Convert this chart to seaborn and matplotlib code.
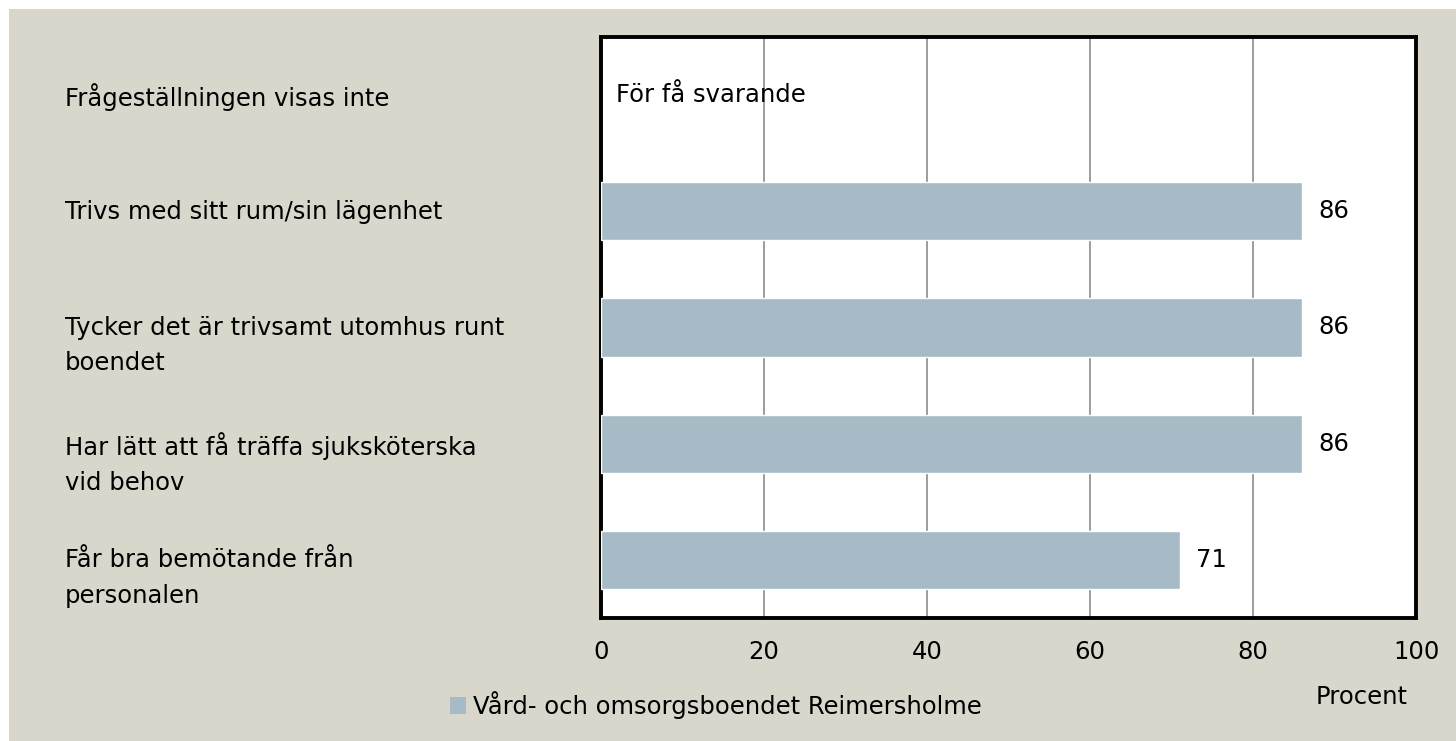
import numpy as np
import pandas as pd
import seaborn as sns
import matplotlib.pyplot as plt
from matplotlib.patches import Patch, Rectangle
from matplotlib.transforms import blended_transform_factory

# data
questions = [
    "Frågeställningen visas inte",
    "Trivs med sitt rum/sin lägenhet",
    "Tycker det är trivsamt utomhus runt\nboendet",
    "Har lätt att få träffa sjuksköterska\nvid behov",
    "Får bra bemötande från\npersonalen",
]
values = [np.nan, 86, 86, 86, 71]
series_name = "Vård- och omsorgsboendet Reimersholme"
too_few_text = "För få svarande"
x_ticks = [0, 20, 40, 60, 80, 100]

bg = "#d9d7cb"
bar_color = "#a7bbc7"
fs = 17.5


def main():
    sns.set_style("white")
    plt.rcParams["font.family"] = ["DejaVu Sans"]
    plt.rcParams["text.color"] = "black"
    plt.rcParams["xtick.color"] = "black"

    df = pd.DataFrame({"question": questions, "value": values})

    fig = plt.figure(figsize=(14.56, 7.41), dpi=100)
    fig.patch.set_facecolor("white")
    fig.patches.append(Rectangle((9 / 1456, 0), 1, 1 - 9 / 741, transform=fig.transFigure,
                                 facecolor=bg, edgecolor="none", zorder=-10))

    ax = fig.add_axes([601 / 1456, 1 - 618 / 741, 815 / 1456, 581 / 741])
    ax.set_facecolor("white")

    sns.barplot(data=df, x="value", y="question", order=questions, orient="h",
                color=bar_color, width=0.5, saturation=1, errorbar=None, ax=ax, zorder=3)

    ax.set_xlim(0, 100)
    ax.set_xticks(x_ticks)
    ax.grid(axis="x", color="#8c8c8c", linewidth=1.2, zorder=0)
    ax.set_axisbelow(True)
    ax.tick_params(axis="x", length=0, pad=16, labelsize=fs, labelcolor="black")
    ax.set_yticks(range(len(questions)))
    ax.set_yticklabels([])
    ax.tick_params(axis="y", length=0)
    ax.set_xlabel("")
    ax.set_ylabel("")
    for s in ax.spines.values():
        s.set_visible(True)
        s.set_color("black")
        s.set_linewidth(2.8)

    # value labels
    for i, v in enumerate(values):
        if np.isnan(v):
            ax.text(1.9, i, too_few_text, va="center", ha="left", fontsize=fs)
        else:
            ax.annotate(f"{v:g}", xy=(v, i), xytext=(12, 0), textcoords="offset points",
                        va="center", ha="left", fontsize=fs)

    # category labels, left aligned in the margin
    trans = blended_transform_factory(fig.transFigure, ax.transData)
    for i, q in enumerate(questions):
        ax.text(65 / 1456, i - 0.1, q, transform=trans, ha="left", va="top",
                fontsize=fs, linespacing=1.6, clip_on=False)

    fig.text(1362 / 1456, 1 - 697 / 741, "Procent", ha="center", va="center", fontsize=fs)

    fig.legend(handles=[Patch(facecolor=bar_color, edgecolor="none", label=series_name)],
               loc="center left", bbox_to_anchor=(440 / 1456, 1 - 705 / 741),
               frameon=False, fontsize=fs, handlelength=0.65, handleheight=0.65,
               handletextpad=0.3, borderaxespad=0)

    fig.savefig("out.png", dpi=100, facecolor=fig.get_facecolor())


if __name__ == "__main__":
    main()
